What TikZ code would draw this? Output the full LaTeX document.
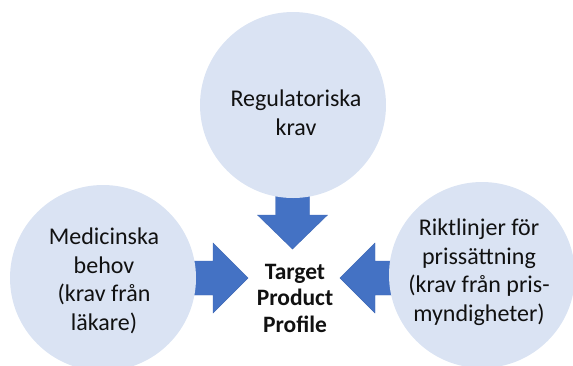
\documentclass[tikz,border=0pt]{standalone}
\usepackage{fontspec}
\setmainfont{Carlito}
\definecolor{circfill}{HTML}{DAE3F3}
\definecolor{arrowblue}{HTML}{4472C4}
\definecolor{arrowedge}{HTML}{3E68B5}
\definecolor{txt}{HTML}{111111}
\begin{document}
\begin{tikzpicture}[x=1pt,y=-1pt,
  bubble/.style={circle, fill=circfill, minimum size=186pt, inner sep=0pt},
  bubbletext/.style={align=center, text=txt, font=\fontsize{24}{28.5}\selectfont},
  centertext/.style={align=center, text=txt, font=\fontsize{23.5}{26.5}\selectfont\bfseries},
  blockarrow/.style={fill=arrowblue, draw=arrowedge, line width=0.4pt, line join=miter}]
\useasboundingbox (0,0) rectangle (573,365);
% arrows (behind circles)
\coordinate (dtip) at (292.5,249);
\coordinate (rtip) at (248,278);
\coordinate (ltip) at (340,278);
\draw[blockarrow] (275.5,190) -- (309.5,190) -- (309.5,215) -- (327.5,215) -- (dtip) -- (257.5,215) -- (275.5,215) -- cycle;
\draw[blockarrow] (190,261) -- (213,261) -- (213,243) -- (rtip) -- (213,313) -- (213,295) -- (190,295) -- cycle;
\draw[blockarrow] (396,261) -- (375,261) -- (375,243) -- (ltip) -- (375,313) -- (375,295) -- (396,295) -- cycle;
% circles
\node[bubble] (top) at (293,105) {};
\node[bubble] (left) at (103,278) {};
\node[bubble] (right) at (482,275) {};
\node[bubbletext] (toptext) at (296,113) {Regulatoriska\\krav};
\node[bubbletext] (lefttext) at (104,281) {Medicinska\\behov\\(krav från\\läkare)};
\node[bubbletext] (righttext) at (479,272) {Riktlinjer för\\prissättning\\(krav från pris-\\myndigheter)};
\node[centertext] (tpp) at (295,298) {Target\\Product\\Profile};
\end{tikzpicture}
\end{document}
